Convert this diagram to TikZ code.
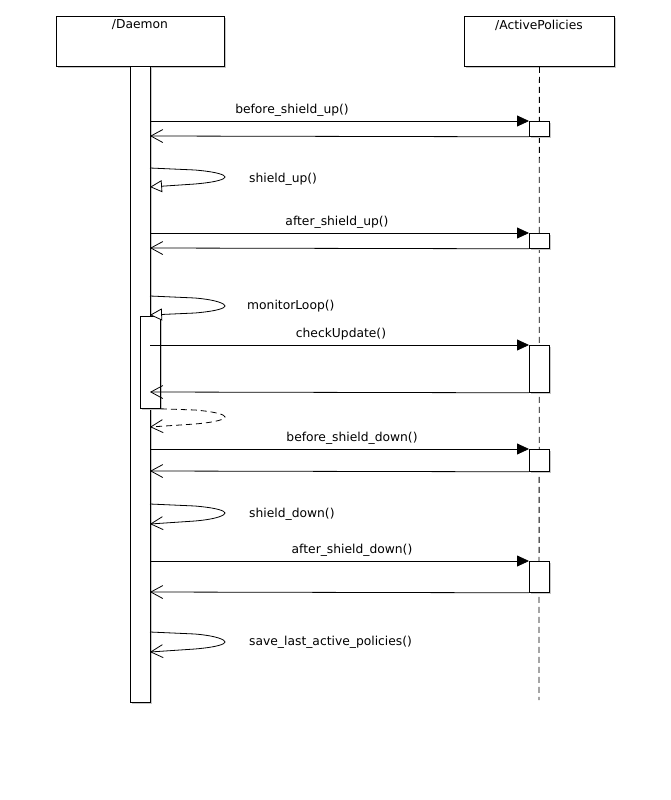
\documentclass[tikz,border=0pt]{standalone}
\usepackage{fontspec}
\setmainfont{DejaVu Sans}
\usetikzlibrary{arrows.meta,shadows}
\begin{document}
\begin{tikzpicture}[x=1pt,y=-1pt,
  every node/.style={font=\fontsize{12.3}{14}\selectfont},
  box/.style={draw=black,line width=0.8pt,fill=white,inner sep=0pt,anchor=north west,
    drop shadow={shadow xshift=2pt,shadow yshift=-2pt,fill=black!22,opacity=1}},
  lbl/.style={inner sep=0pt},
  callmsg/.style={draw=black,line width=0.8pt,-{Triangle[length=12pt,width=11pt]}},
  retmsg/.style={draw=black,line width=0.8pt,-{Straight Barb[length=12pt,width=13pt,line width=0.8pt]}},
  selfmsg/.style={draw=black,line width=0.8pt,-{Triangle[open,length=12pt,width=12pt,fill=white,line width=0.8pt]}},
  selfret/.style={draw=black,line width=0.8pt,-{Straight Barb[length=12pt,width=13pt,line width=0.8pt]}},
  lifeline/.style={draw=black,line width=0.8pt,dash pattern=on 6pt off 4pt}
]
\useasboundingbox (0,0) rectangle (670,800);
\fill[white] (0,0) rectangle (670,800);

% headers
\node[box,minimum width=168pt,minimum height=50pt] (daemon) at (56,16) {};
\node[lbl] (daemonlbl) at (140,25) {/Daemon};
\node[box,minimum width=150pt,minimum height=50pt] (ap) at (464,16) {};
\node[lbl] (aplbl) at (539,25) {/ActivePolicies};

% lifeline of ActivePolicies
\coordinate (apend) at (539,700);
\draw[lifeline] (ap.south) -- (apend);

% Daemon activation
\node[box,minimum width=20pt,minimum height=636pt] (dact) at (130,66) {};

% ActivePolicies activations
\node[box,minimum width=20pt,minimum height=15pt] (act1) at (529,121) {};
\node[box,minimum width=20pt,minimum height=15pt] (act2) at (529,233) {};
\node[box,minimum width=20pt,minimum height=47pt] (act3) at (529,345) {};
\node[box,minimum width=20pt,minimum height=22pt] (act4) at (529,449) {};
\node[box,minimum width=20pt,minimum height=31pt] (act5) at (529,561) {};

% nested activation
\node[box,minimum width=20pt,minimum height=92pt] (nact) at (140,316) {};

% coordinates on the Daemon side
\coordinate (c1) at (150,121);  \coordinate (r1) at (150,136);
\coordinate (c2) at (150,233);  \coordinate (r2) at (150,248);
\coordinate (c3) at (150,345);  \coordinate (r3) at (150,392);
\coordinate (c4) at (150,449);  \coordinate (r4) at (150,471);
\coordinate (c5) at (150,561);  \coordinate (r5) at (150,592);

% calls and returns
\draw[callmsg] (c1) -- (act1.north west);
\draw[retmsg] (act1.south west) -- (r1);
\node[lbl] (l1) at (292,110) {before\_shield\_up()};

\draw[callmsg] (c2) -- (act2.north west);
\draw[retmsg] (act2.south west) -- (r2);
\node[lbl] (l2) at (337,222) {after\_shield\_up()};

\draw[callmsg] (c3) -- (act3.north west);
\draw[retmsg] (act3.south west) -- (r3);
\node[lbl] (l3) at (341,334) {checkUpdate()};

\draw[callmsg] (c4) -- (act4.north west);
\draw[retmsg] (act4.south west) -- (r4);
\node[lbl] (l4) at (352,438) {before\_shield\_down()};

\draw[callmsg] (c5) -- (act5.north west);
\draw[retmsg] (act5.south west) -- (r5);
\node[lbl] (l5) at (352,550) {after\_shield\_down()};

% self calls
\coordinate (s1a) at (150,168); \coordinate (s1b) at (150,187);
\draw[selfmsg] (s1a) -- (195,170) .. controls (218,172) and (225,175) .. (225,177)
  .. controls (225,179) and (218,182) .. (195,184) -- (s1b);
\node[lbl,anchor=west] (ls1) at (249,179) {shield\_up()};

\coordinate (s2a) at (150,296); \coordinate (s2b) at (150,315);
\draw[selfmsg] (s2a) -- (195,298) .. controls (218,300) and (225,304) .. (225,306)
  .. controls (225,308) and (218,311) .. (195,313) -- (s2b);
\node[lbl,anchor=west] (ls2) at (247,306) {monitorLoop()};

\coordinate (s3b) at (150,427);
\draw[selfret,dash pattern=on 6pt off 4pt] (nact.south east) -- (195,410) .. controls (218,412) and (225,415) .. (225,417)
  .. controls (225,419) and (218,422) .. (195,424) -- (s3b);

\coordinate (s4a) at (150,504); \coordinate (s4b) at (150,524);
\draw[selfret] (s4a) -- (195,506) .. controls (218,508) and (225,511) .. (225,513)
  .. controls (225,515) and (218,519) .. (195,521) -- (s4b);
\node[lbl,anchor=west] (ls4) at (249,514) {shield\_down()};

\coordinate (s5a) at (150,632); \coordinate (s5b) at (150,652);
\draw[selfret] (s5a) -- (195,634) .. controls (218,636) and (225,640) .. (225,642)
  .. controls (225,644) and (218,647) .. (195,649) -- (s5b);
\node[lbl,anchor=west] (ls5) at (249,642) {save\_last\_active\_policies()};
\end{tikzpicture}
\end{document}
